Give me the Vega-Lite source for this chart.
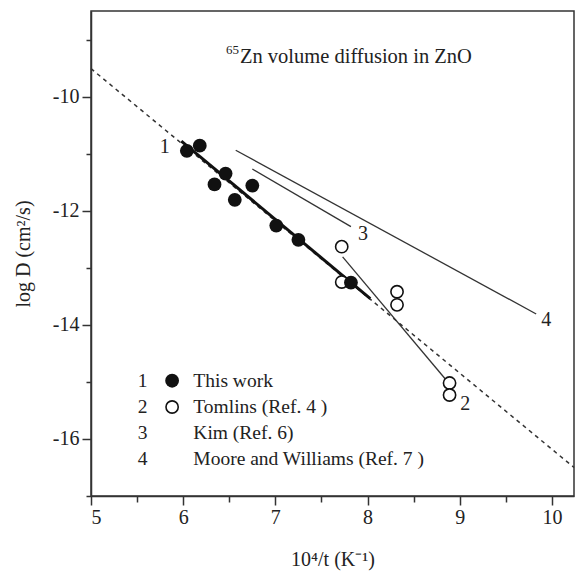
{
  "$schema": "https://vega.github.io/schema/vega-lite/v6.json",
  "width": 483,
  "height": 485,
  "autosize": {"type": "none"},
  "padding": {"left": 91, "top": 11, "right": 2, "bottom": 78},
  "background": "white",
  "config": {
    "font": "Liberation Serif",
    "view": {"stroke": "#333", "strokeWidth": 1.5},
    "axis": {
      "domainColor": "#333", "tickColor": "#333", "domainWidth": 1.5, "tickWidth": 1.5,
      "labelColor": "#222", "titleColor": "#222",
      "labelFont": "Liberation Serif", "titleFont": "Liberation Serif",
      "labelFontSize": 20, "titleFontSize": 20, "titleFontWeight": "normal",
      "grid": false
    }
  },
  "datasets": {
    "points": [
      {"x": 7.72, "y": -12.63, "series": "Tomlins"},
      {"x": 7.72, "y": -13.25, "series": "Tomlins"},
      {"x": 8.32, "y": -13.42, "series": "Tomlins"},
      {"x": 8.32, "y": -13.65, "series": "Tomlins"},
      {"x": 8.89, "y": -15.02, "series": "Tomlins"},
      {"x": 8.89, "y": -15.23, "series": "Tomlins"},
      {"x": 6.04, "y": -10.95, "series": "This work"},
      {"x": 6.18, "y": -10.86, "series": "This work"},
      {"x": 6.46, "y": -11.35, "series": "This work"},
      {"x": 6.34, "y": -11.54, "series": "This work"},
      {"x": 6.75, "y": -11.56, "series": "This work"},
      {"x": 6.56, "y": -11.81, "series": "This work"},
      {"x": 7.01, "y": -12.26, "series": "This work"},
      {"x": 7.25, "y": -12.51, "series": "This work"},
      {"x": 7.82, "y": -13.26, "series": "This work"}
    ],
    "lines": [
      {"line": "fit", "x": 5, "y": -9.51},
      {"line": "fit", "x": 10.24, "y": -16.5},
      {"line": "1", "x": 5.98, "y": -10.78},
      {"line": "1", "x": 8.03, "y": -13.54},
      {"line": "2", "x": 7.73, "y": -12.81},
      {"line": "2", "x": 8.86, "y": -14.98},
      {"line": "3", "x": 6.75, "y": -11.27},
      {"line": "3", "x": 7.82, "y": -12.28},
      {"line": "4", "x": 6.57, "y": -10.94},
      {"line": "4", "x": 9.83, "y": -13.81}
    ],
    "labels": [
      {"x": 5.8, "y": -10.89, "text": "1"},
      {"x": 9.06, "y": -15.39, "text": "2"},
      {"x": 7.95, "y": -12.41, "text": "3"},
      {"x": 9.94, "y": -13.92, "text": "4"}
    ],
    "legend": [
      {"num": "1", "name": "This work", "series": "This work", "xn": 5.56, "xs": 5.88, "xt": 6.11, "y": -14.98},
      {"num": "2", "name": "Tomlins (Ref. 4 )", "series": "Tomlins", "xn": 5.56, "xs": 5.88, "xt": 6.11, "y": -15.44},
      {"num": "3", "name": "Kim (Ref. 6)", "series": "none", "xn": 5.56, "xs": 5.88, "xt": 6.11, "y": -15.89},
      {"num": "4", "name": "Moore and Williams (Ref. 7 )", "series": "none", "xn": 5.56, "xs": 5.88, "xt": 6.11, "y": -16.35}
    ],
    "title": [
      {"x": 6.616, "y": -9.3, "text": "Zn volume diffusion in ZnO", "sup": "65"}
    ]
  },
  "encoding": {
    "x": {
      "field": "x", "type": "quantitative",
      "scale": {"domain": [5, 10.24], "nice": false, "zero": false},
      "axis": {
        "title": "10⁴/t (K⁻¹)",
        "values": [5, 5.5, 6, 6.5, 7, 7.5, 8, 8.5, 9, 9.5, 10],
        "labelExpr": "datum.value % 1 === 0 ? format(datum.value, 'd') : ''",
        "tickSize": {"condition": {"test": "datum.value % 1 === 0", "value": 9}, "value": 6},
        "labelPadding": 2,
        "titlePadding": 22
      }
    },
    "y": {
      "field": "y", "type": "quantitative",
      "scale": {"domain": [-17, -8.5], "nice": false, "zero": false},
      "axis": {
        "title": "log D (cm²/s)",
        "values": [-17, -16, -15, -14, -13, -12, -11, -10, -9],
        "labelExpr": "datum.value % 2 === 0 ? '-' + abs(datum.value) : ''",
        "tickSize": {"condition": {"test": "datum.value % 2 === 0", "value": 9}, "value": 5},
        "labelPadding": 3,
        "titlePadding": 19
      }
    }
  },
  "layer": [
    {
      "data": {"name": "lines"},
      "transform": [{"filter": "datum.line === 'fit'"}],
      "mark": {"type": "line", "color": "#333", "strokeWidth": 1.5, "strokeDash": [4, 4]},
      "encoding": {"detail": {"field": "line"}}
    },
    {
      "data": {"name": "lines"},
      "transform": [{"filter": "datum.line === '1'"}],
      "mark": {"type": "line", "color": "#111", "strokeWidth": 3},
      "encoding": {"detail": {"field": "line"}}
    },
    {
      "data": {"name": "lines"},
      "transform": [{"filter": "datum.line !== 'fit' && datum.line !== '1'"}],
      "mark": {"type": "line", "color": "#333", "strokeWidth": 1.3},
      "encoding": {"detail": {"field": "line"}}
    },
    {
      "data": {"name": "points"},
      "transform": [{"filter": "datum.series === 'Tomlins'"}],
      "mark": {"type": "point", "shape": "circle", "filled": false, "fill": "white", "fillOpacity": 1, "stroke": "#111", "strokeWidth": 1.6, "size": 150, "opacity": 1}
    },
    {
      "data": {"name": "points"},
      "transform": [{"filter": "datum.series === 'This work'"}],
      "mark": {"type": "point", "shape": "circle", "filled": true, "color": "#111", "size": 190, "opacity": 1}
    },
    {
      "data": {"name": "labels"},
      "mark": {"type": "text", "fontSize": 20, "color": "#222", "align": "center", "baseline": "middle"},
      "encoding": {"text": {"field": "text"}}
    },
    {
      "data": {"name": "title"},
      "mark": {"type": "text", "fontSize": 20.5, "color": "#222", "align": "left", "baseline": "middle"},
      "encoding": {"text": {"field": "text"}}
    },
    {
      "data": {"name": "title"},
      "mark": {"type": "text", "fontSize": 13, "color": "#222", "align": "right", "baseline": "middle", "dx": -1, "dy": -7},
      "encoding": {"text": {"field": "sup"}}
    },
    {
      "data": {"name": "legend"},
      "mark": {"type": "text", "fontSize": 19.5, "color": "#222", "align": "center", "baseline": "middle"},
      "encoding": {"x": {"field": "xn", "type": "quantitative"}, "text": {"field": "num"}}
    },
    {
      "data": {"name": "legend"},
      "mark": {"type": "text", "fontSize": 19.5, "color": "#222", "align": "left", "baseline": "middle"},
      "encoding": {"x": {"field": "xt", "type": "quantitative"}, "text": {"field": "name"}}
    },
    {
      "data": {"name": "legend"},
      "transform": [{"filter": "datum.series === 'This work'"}],
      "mark": {"type": "point", "shape": "circle", "filled": true, "color": "#111", "size": 190, "opacity": 1},
      "encoding": {"x": {"field": "xs", "type": "quantitative"}}
    },
    {
      "data": {"name": "legend"},
      "transform": [{"filter": "datum.series === 'Tomlins'"}],
      "mark": {"type": "point", "shape": "circle", "filled": false, "fill": "white", "fillOpacity": 1, "stroke": "#111", "strokeWidth": 1.6, "size": 150, "opacity": 1},
      "encoding": {"x": {"field": "xs", "type": "quantitative"}}
    }
  ]
}
